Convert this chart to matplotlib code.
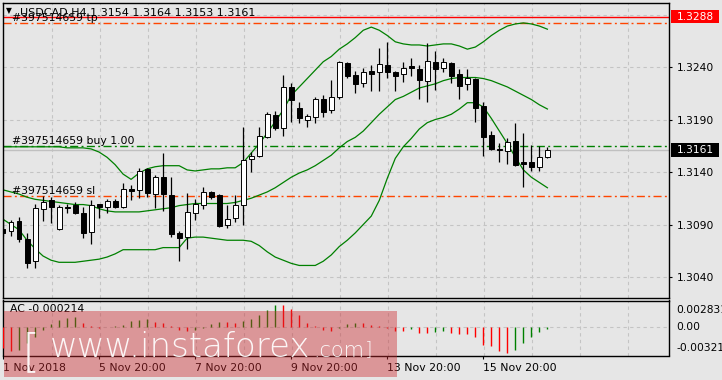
import matplotlib
matplotlib.use("Agg")
import matplotlib.pyplot as plt
import matplotlib.transforms as mtransforms
from matplotlib.patches import Rectangle
import numpy as np

W, H = 722, 380
BG = "#e6e6e6"
GRID = "#c4c4c4"
GREEN = "#008000"
ORDER_RED = "#ff4500"

# USDCAD H4, 69 bars (oldest first)
opens = [1.3086, 1.3084, 1.3093, 1.3076, 1.3055, 1.3105, 1.3113, 1.3086, 1.3107, 1.3109,
         1.3101, 1.3083, 1.3110, 1.3107, 1.3112, 1.3107, 1.3124, 1.3123, 1.3143, 1.3119,
         1.3135, 1.3118, 1.3082, 1.3078, 1.3101, 1.3109, 1.3121, 1.3118, 1.3090, 1.3096,
         1.3109, 1.3152, 1.3155, 1.3173, 1.3194, 1.3182, 1.3221, 1.3201, 1.3190, 1.3192,
         1.3210, 1.3199, 1.3211, 1.3244, 1.3232, 1.3225, 1.3236, 1.3235, 1.3242, 1.3235,
         1.3233, 1.3241, 1.3238, 1.3227, 1.3245, 1.3239, 1.3244, 1.3233, 1.3224, 1.3229,
         1.3203, 1.3175, 1.3162, 1.3160, 1.3170, 1.3150, 1.3150, 1.3145, 1.3154]
highs = [1.3095, 1.3094, 1.3097, 1.3082, 1.3110, 1.3117, 1.3116, 1.3109, 1.3110, 1.3111,
         1.3107, 1.3113, 1.3110, 1.3114, 1.3114, 1.3130, 1.3128, 1.3144, 1.3144, 1.3137,
         1.3158, 1.3135, 1.3084, 1.3120, 1.3114, 1.3126, 1.3122, 1.3119, 1.3109, 1.3118,
         1.3183, 1.3159, 1.3183, 1.3197, 1.3198, 1.3232, 1.3225, 1.3207, 1.3195, 1.3211,
         1.3213, 1.3228, 1.3246, 1.3245, 1.3236, 1.3239, 1.3242, 1.3258, 1.3264, 1.3236,
         1.3245, 1.3249, 1.3242, 1.3263, 1.3255, 1.3249, 1.3245, 1.3238, 1.3238, 1.3230,
         1.3207, 1.3179, 1.3168, 1.3172, 1.3187, 1.3177, 1.3166, 1.3165, 1.3164]
lows = [1.3079, 1.3079, 1.3073, 1.3049, 1.3049, 1.3093, 1.3091, 1.3085, 1.3101, 1.3100,
        1.3077, 1.3071, 1.3096, 1.3101, 1.3106, 1.3106, 1.3113, 1.3115, 1.3116, 1.3106,
        1.3103, 1.3078, 1.3055, 1.3067, 1.3094, 1.3105, 1.3114, 1.3088, 1.3087, 1.3092,
        1.3090, 1.3140, 1.3154, 1.3172, 1.3180, 1.3174, 1.3188, 1.3187, 1.3183, 1.3187,
        1.3192, 1.3196, 1.3210, 1.3230, 1.3215, 1.3221, 1.3217, 1.3217, 1.3230, 1.3217,
        1.3226, 1.3231, 1.3210, 1.3207, 1.3218, 1.3235, 1.3225, 1.3210, 1.3218, 1.3188,
        1.3155, 1.3161, 1.3150, 1.3148, 1.3146, 1.3126, 1.3141, 1.3141, 1.3153]
closes = [1.3082, 1.3092, 1.3076, 1.3053, 1.3106, 1.3111, 1.3107, 1.3107, 1.3106, 1.3101,
          1.3082, 1.3109, 1.3107, 1.3112, 1.3107, 1.3124, 1.3122, 1.3141, 1.3120, 1.3135,
          1.3119, 1.3081, 1.3077, 1.3102, 1.3110, 1.3121, 1.3116, 1.3089, 1.3095, 1.3109,
          1.3151, 1.3155, 1.3174, 1.3195, 1.3182, 1.3221, 1.3209, 1.3191, 1.3193, 1.3210,
          1.3197, 1.3211, 1.3245, 1.3231, 1.3224, 1.3235, 1.3233, 1.3243, 1.3235, 1.3231,
          1.3239, 1.3239, 1.3228, 1.3246, 1.3238, 1.3245, 1.3231, 1.3222, 1.3230, 1.3201,
          1.3173, 1.3162, 1.3161, 1.3169, 1.3147, 1.3148, 1.3145, 1.3154, 1.3161]

# Bollinger bands
bb_upper = [1.3164, 1.3164, 1.3164, 1.3164, 1.3164, 1.3164, 1.3164, 1.3164, 1.3163, 1.3163,
            1.3163, 1.3162, 1.3159, 1.3154, 1.3147, 1.3138, 1.3133, 1.3139, 1.3143, 1.3145,
            1.3146, 1.3146, 1.3146, 1.3142, 1.3141, 1.3142, 1.3143, 1.3143, 1.3144, 1.3144,
            1.3149, 1.3158, 1.3167, 1.3177, 1.3188, 1.3199, 1.3213, 1.3221, 1.3229, 1.3237,
            1.3245, 1.3250, 1.3257, 1.3262, 1.3268, 1.3275, 1.3278, 1.3275, 1.3270, 1.3264,
            1.3262, 1.3261, 1.3261, 1.3260, 1.3261, 1.3262, 1.3262, 1.3260, 1.3257, 1.3259,
            1.3264, 1.3270, 1.3275, 1.3279, 1.3281, 1.3282, 1.3281, 1.3279, 1.3276]
bb_mid = [1.3123, 1.3121, 1.3119, 1.3116, 1.3114, 1.3113, 1.3112, 1.3111, 1.3110, 1.3109,
          1.3109, 1.3108, 1.3105, 1.3103, 1.3102, 1.3102, 1.3102, 1.3102, 1.3103, 1.3104,
          1.3105, 1.3106, 1.3108, 1.3109, 1.3110, 1.3110, 1.3110, 1.3110, 1.3110, 1.3111,
          1.3113, 1.3115, 1.3118, 1.3121, 1.3125, 1.3130, 1.3135, 1.3139, 1.3142, 1.3146,
          1.3151, 1.3156, 1.3163, 1.3169, 1.3173, 1.3179, 1.3187, 1.3195, 1.3202, 1.3209,
          1.3212, 1.3216, 1.3220, 1.3222, 1.3224, 1.3227, 1.3229, 1.3230, 1.3230, 1.3230,
          1.3229, 1.3227, 1.3224, 1.3221, 1.3217, 1.3213, 1.3209, 1.3204, 1.3200]
bb_lower = [1.3095, 1.3090, 1.3085, 1.3075, 1.3067, 1.3060, 1.3056, 1.3054, 1.3054, 1.3054,
            1.3055, 1.3056, 1.3057, 1.3059, 1.3062, 1.3066, 1.3066, 1.3066, 1.3066, 1.3066,
            1.3068, 1.3068, 1.3068, 1.3077, 1.3078, 1.3078, 1.3077, 1.3076, 1.3075, 1.3075,
            1.3075, 1.3074, 1.3070, 1.3064, 1.3059, 1.3056, 1.3053, 1.3051, 1.3051, 1.3051,
            1.3055, 1.3061, 1.3069, 1.3075, 1.3082, 1.3090, 1.3098, 1.3113, 1.3134, 1.3153,
            1.3164, 1.3172, 1.3181, 1.3187, 1.3190, 1.3192, 1.3195, 1.3200, 1.3206, 1.3206,
            1.3202, 1.3191, 1.3179, 1.3167, 1.3154, 1.3142, 1.3135, 1.3130, 1.3125]

# Accelerator Oscillator
ac_values = [-0.00260, -0.00300, -0.00280, -0.00200, -0.00125, -0.00030, 0.00035, 0.00095, 0.00115, 0.00125,
             0.00055, 0.00012, -0.00008, 0.00003, 0.00015, 0.00033, 0.00083, 0.00096, 0.00108, 0.00067,
             0.00054, 0.00013, -0.00029, -0.00045, -0.00030, -0.00010, 0.00042, 0.00067, 0.00060, 0.00055,
             0.00083, 0.00108, 0.00158, 0.00220, 0.002831, 0.00275, 0.00233, 0.00158, 0.00054, 0.000125,
             -0.00029, -0.00042, -0.00010, 0.00046, 0.00058, 0.00050, 0.00033, 0.00015, -0.00005, -0.00042,
             -0.00045, -0.00021, -0.00071, -0.00075, -0.00063, -0.00050, -0.00071, -0.00083, -0.00085, -0.00125,
             -0.00217, -0.00238, -0.00292, -0.00321, -0.00279, -0.00196, -0.00125, -0.00063, -0.000214]

price_ticks = [1.3040, 1.3090, 1.3140, 1.3190, 1.3240]
grid_prices = [1.3040, 1.3090, 1.3140, 1.3190, 1.3240, 1.3290]
time_bars = [0, 12, 24, 36, 48, 60]
time_labels = ["1 Nov 2018", "5 Nov 20:00", "7 Nov 20:00", "9 Nov 20:00",
               "13 Nov 20:00", "15 Nov 20:00"]

order_id = "#397514659"
tp_price = 1.3282
sl_price = 1.3117
buy_price = 1.3165
alert_price = 1.3288
bid_price = closes[-1]

plt.rcParams["font.family"] = "DejaVu Sans"


def box(left, top, right, bottom):
    # pixel box -> figure fraction
    return [left / W, 1 - bottom / H, (right - left) / W, (bottom - top) / H]


fig = plt.figure(figsize=(W / 100, H / 100), dpi=100, facecolor=BG)
ax = fig.add_axes(box(2.5, 2.5, 669, 297.5), facecolor=BG)
ax_ac = fig.add_axes(box(2.5, 300.5, 669, 355.5), facecolor=BG)

x = np.arange(len(opens))
o, h, l, c = (np.array(v) for v in (opens, highs, lows, closes))
xlim = (-0.0625, 83.1875)

# --- grid
for a in (ax, ax_ac):
    for g in np.arange(6, 84, 6):
        a.axvline(g + 0.12, color=GRID, lw=0.8, ls=(0, (3, 3)), zorder=0)
for p in grid_prices:
    ax.axhline(p, color=GRID, lw=0.8, ls=(0, (3, 3)), zorder=0)
ax_ac.axhline(0, color=GRID, lw=0.8, ls=(0, (3, 3)), zorder=0)

# --- candles
ax.vlines(x, l, h, color="black", lw=0.9, zorder=3)
body_lo = np.minimum(o, c)
body_h = np.maximum(np.abs(c - o), 0.00004)
ax.bar(x, body_h, bottom=body_lo, width=0.62,
       color=np.where(c >= o, "white", "black"), edgecolor="black", lw=0.7, zorder=4)

# --- bollinger bands
for band in (bb_upper, bb_mid, bb_lower):
    ax.plot(x, band, color=GREEN, lw=0.9, zorder=2)

# --- order / price lines
dashdot = (0, (5.8, 2.4, 1.4, 2.4))
ax.axhline(alert_price, color="red", lw=1.0, zorder=1)
ax.axhline(tp_price, color=ORDER_RED, lw=1.0, ls=dashdot, zorder=1)
ax.axhline(sl_price, color=ORDER_RED, lw=1.0, ls=dashdot, zorder=1)
ax.axhline(bid_price, color="#c0c0c0", lw=1.0, zorder=1)
ax.axhline(buy_price, color=GREEN, lw=1.0, ls=dashdot, zorder=1)

blend = mtransforms.blended_transform_factory(ax.transAxes, ax.transData)
lbl_x = (12 - 2.5) / 666.5
txt = dict(fontsize=7.8, color="black", ha="left", va="bottom", transform=blend, zorder=6)
ax.text(lbl_x, tp_price, f"{order_id} tp", **txt)
ax.text(lbl_x, buy_price, f"{order_id} buy 1.00", **txt)
ax.text(lbl_x, sl_price, f"{order_id} sl", **txt)

ax.set_xlim(*xlim)
ax.set_ylim(1.302048, 1.330143)
ax.tick_params(axis="x", bottom=False, labelbottom=False)
ax.yaxis.tick_right()
ax.set_yticks(price_ticks)
ax.set_yticklabels([f"{p:.4f}" for p in price_ticks])
ax.tick_params(axis="y", direction="out", length=2.2, width=0.8, pad=3.3,
               labelsize=7.7, colors="black")

# price boxes on the right scale
right_x = (676.5 - 2.5) / 666.5
box_x0 = (671 - 2.5) / 666.5
box_w = 48 / 666.5
box_h = 13.5 / 10500
for price, fc in ((alert_price, "#ff0000"), (bid_price, "black")):
    ax.add_patch(Rectangle((box_x0, price - box_h / 2), box_w, box_h, transform=blend,
                           facecolor=fc, edgecolor="none", clip_on=False, zorder=7))
    ax.text(right_x, price, f"{price:.4f}", transform=blend, color="white", fontsize=7.7,
            ha="left", va="center", zorder=8, clip_on=False)

# header
fig.text(9 / W, 1 - 10.5 / H, "\u25bc", fontsize=5.5, ha="center", va="center")
fig.text(20 / W, 1 - 16 / H,
         f"USDCAD,H4 {o[-1]:.4f} {h[-1]:.4f} {l[-1]:.4f} {c[-1]:.4f}",
         fontsize=8, ha="left", va="baseline")

# --- AC panel
ac = np.array(ac_values)
ac_colors = ["#ff0000"] + [GREEN if ac[i] > ac[i - 1] else "#ff0000" for i in range(1, len(ac))]
ax_ac.vlines(x, 0, ac, colors=ac_colors, lw=1.0, zorder=3)
ax_ac.set_xlim(*xlim)
ax_ac.set_ylim(-0.003525, 0.00335)
ax_ac.set_yticks([])
ax_ac.set_xticks(time_bars)
ax_ac.set_xticklabels(time_labels)
for lab in ax_ac.get_xticklabels():
    lab.set_ha("left")
ax_ac.tick_params(axis="x", direction="out", length=2.5, width=0.8, pad=3,
                  labelsize=7.8, colors="black")
ac_blend = mtransforms.blended_transform_factory(ax_ac.transAxes, ax_ac.transData)
ax_ac.text(right_x, ac.max(), f"{ac.max():.6f}"[:8], transform=ac_blend, fontsize=7.7,
           ha="left", va="top", clip_on=False)
ax_ac.text(right_x, 0, "0.00", transform=ac_blend, fontsize=7.7,
           ha="left", va="center", clip_on=False)
ax_ac.text(right_x, ac.min(), f"{ac.min():.6f}"[:8], transform=ac_blend, fontsize=7.7,
           ha="left", va="bottom", clip_on=False)
ax_ac.text(7 / 666.5, 0.93, f"AC {ac[-1]:.6f}", transform=ax_ac.transAxes,
           fontsize=7.8, ha="left", va="top")

for a in (ax, ax_ac):
    for s in a.spines.values():
        s.set_color("black")
        s.set_linewidth(1.0)

# --- watermark
fig.add_artist(Rectangle((3.7 / W, 1 - 377 / H), (397 - 3.7) / W, (377 - 310.7) / H,
                         transform=fig.transFigure, facecolor=(0.80, 0.16, 0.18),
                         alpha=0.42, edgecolor="none", zorder=20))
wm = dict(color="white", alpha=0.92, ha="left", va="baseline", zorder=21)
fig.text(22 / W, 1 - 366 / H, "[", fontsize=34, fontweight="light", **wm)
fig.text(50 / W, 1 - 357 / H, "www.instaforex", fontsize=24.5, fontweight="light", **wm)
fig.text(313 / W, 1 - 357 / H, ".com", fontsize=15, fontweight="light", **wm)
fig.text(365 / W, 1 - 355 / H, "]", fontsize=14, fontweight="light", **wm)

fig.savefig("out.png", dpi=100, facecolor=BG)
